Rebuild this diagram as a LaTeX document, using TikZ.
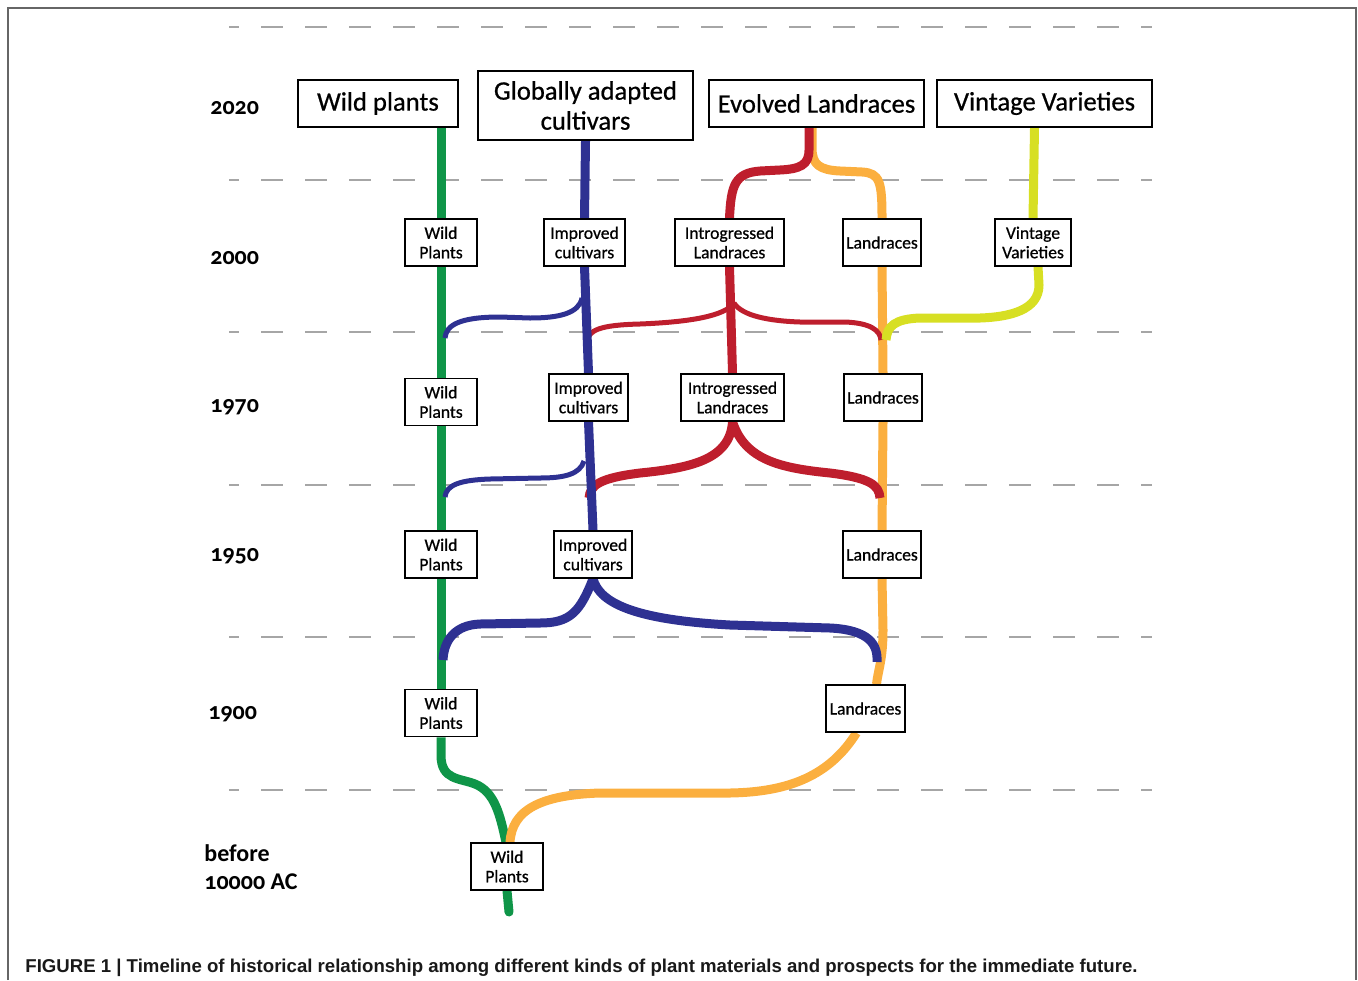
\documentclass[tikz,border=0pt]{standalone}
\usepackage{fontspec}
\setmainfont{Carlito}[Numbers=OldStyle]
\newfontfamily\diagfont{Carlito}[Numbers=OldStyle, FakeBold=0.7]
\newfontfamily\capfont{Liberation Sans}
\usetikzlibrary{calc,backgrounds}
\definecolor{wildgreen}{HTML}{0F9548}
\definecolor{impblue}{HTML}{2E3192}
\definecolor{intred}{HTML}{BE1E2D}
\definecolor{landorange}{HTML}{FBAF3F}
\definecolor{vintyellow}{HTML}{D7DF23}

\begin{document}
\begin{tikzpicture}[x=0.5pt, y=-0.5pt,
    header/.style={draw, line width=1pt, fill=white, inner sep=0pt, align=center, font=\diagfont\fontsize{13.3}{15}\selectfont},
    stage/.style={draw, line width=0.8pt, fill=white, inner sep=0pt, align=center, minimum width=36pt, minimum height=23.5pt, font=\diagfont\fontsize{8.8}{9.7}\selectfont},
    year/.style={anchor=west, inner sep=0pt, align=left, font=\fontsize{12}{14}\selectfont\bfseries},
    gridline/.style={draw=black!35, line width=0.75pt, dash pattern=on 11pt off 11pt, dash phase=6pt},
    thickline/.style={line width=4.5pt},
    thinline/.style={line width=2.5pt}]
    \useasboundingbox (0,0) rectangle (1358,980);
    \draw[black!60, line width=1pt] (8,980) -- (8,8) -- (1356,8) -- (1356,980);
    \node[anchor=base west, inner sep=0pt, text=black!90] (caption) at (25,972)
        {\capfont\bfseries\fontsize{9.3}{11}\selectfont\resizebox{556pt}{\height}{FIGURE 1 | Timeline of historical relationship among different kinds of plant materials and prospects for the immediate future.}};

    % years
    \node[year] (y2020) at (210,108) {2020};
    \node[year] (y2000) at (210,258) {2000};
    \node[year] (y1970) at (210,407) {1970};
    \node[year] (y1950) at (210,556) {1950};
    \node[year] (y1900) at (208,714) {1900};
    \node[year] (yold) at (204,867) {before\\10000 AC};

    % top row
    \node[header, minimum width=80pt, minimum height=23.5pt] (hdWild) at (378,103.5) {Wild plants};
    \node[header, minimum width=107.5pt, minimum height=34.5pt] (hdGlob) at (585.5,105.5) {Globally adapted\\cultivars};
    \node[header, minimum width=107.5pt, minimum height=23.5pt] (hdEvol) at (816.5,103.5) {Evolved Landraces};
    \node[header, minimum width=107.5pt, minimum height=23.5pt] (hdVint) at (1044.5,103.5) {Vintage Varieties};

    % 2000
    \node[stage] (wp2) at (441,242.5) {Wild\\Plants};
    \node[stage, minimum width=40.5pt] (ic2) at (584.5,242.5) {Improved\\cultivars};
    \node[stage, minimum width=54.5pt] (il2) at (729.5,242.5) {Introgressed\\Landraces};
    \node[stage, minimum width=39pt] (lr2) at (882,242.5) {Landraces};
    \node[stage, minimum width=38pt] (vv2) at (1033,242.5) {Vintage\\Varieties};
    % 1970
    \node[stage] (wp3) at (441,402) {Wild\\Plants};
    \node[stage, minimum width=39.5pt] (ic3) at (588.5,397.5) {Improved\\cultivars};
    \node[stage, minimum width=51.5pt] (il3) at (732.5,397.5) {Introgressed\\Landraces};
    \node[stage, minimum width=39pt] (lr3) at (883,397.5) {Landraces};
    % 1950
    \node[stage] (wp4) at (441,554.5) {Wild\\Plants};
    \node[stage, minimum width=39pt] (ic4) at (593,554.5) {Improved\\cultivars};
    \node[stage, minimum width=39pt] (lr4) at (882,554.5) {Landraces};
    % 1900
    \node[stage] (wp5) at (441,713) {Wild\\Plants};
    \node[stage, minimum width=39.5pt] (lr5) at (865.5,708.5) {Landraces};
    % origin
    \node[stage] (wp6) at (507,866.5) {Wild\\Plants};

    \begin{pgfonlayer}{background}
    \foreach \y in {27,180,332,485,637,790}
        \draw[gridline] (229,\y) -- (1152,\y);

    % wild plants
    \draw[thickline, wildgreen] (wp2.north |- hdWild.south) -- (wp2.north);
    \foreach \a/\b in {wp2/wp3, wp3/wp4, wp4/wp5}
        \draw[thickline, wildgreen] (\a.south) -- (\b.north);
    \draw[thickline, wildgreen] (wp5.south) -- ++(0,18) .. controls ++(0,25) and (460,778) .. (475,784)
        .. controls (495,792) and (500,815) .. ($(wp6.north)+(-1,0)$);
    \draw[thickline, wildgreen, line cap=round] (wp6.south) -- (509,912);

    % landraces
    \draw[thickline, landorange] (812,127) -- (812,148) .. controls (812,165) and (820,170) .. (840,171)
        -- (862,172) .. controls (880,173) and (lr2.north |- 0,182) .. (lr2.north);
    \draw[thickline, landorange] (lr2.south) -- (lr3.north);
    \draw[thickline, landorange] (lr3.south) -- (lr4.north);
    \draw[thickline, landorange] (lr4.south) -- (883,630) .. controls (883,660) and (878,670) .. ($(lr5.north)+(11,0)$);
    \draw[thickline, landorange] ($(lr5.south)+(-9,0)$) .. controls (830,775) and (790,792) .. (730,793)
        -- (600,793) .. controls (540,795) and (512,810) .. ($(wp6.north)+(3,0)$);

    % introgressed landraces
    \draw[thickline, intred] (809,127) -- (809,150) .. controls (809,165) and (800,169) .. (780,170)
        -- (760,171) .. controls (735,173) and (731,185) .. (il2.north);
    \draw[thickline, intred] (il2.south) -- (il3.north);
    \coordinate (rj) at (734,303);
    \draw[thinline, intred] (rj) .. controls (725,316) and (690,322) .. (640,324) .. controls (600,325) and (588,330) .. (587,342);
    \draw[thinline, intred] (rj) .. controls (742,316) and (770,321) .. (800,322) -- (845,322) .. controls (870,323) and (880,330) .. (881,340);
    \draw[thickline, intred] (il3.south) .. controls (730,460) and (690,468) .. (640,473) .. controls (600,478) and (590,485) .. (589,498);
    \draw[thickline, intred] (il3.south) .. controls (745,460) and (780,468) .. (830,473) .. controls (870,478) and (879,485) .. (880,498);

    % improved cultivars
    \draw[thickline, impblue] (hdGlob.south) -- (ic2.north);
    \draw[thickline, impblue] (ic2.south) -- (ic3.north);
    \draw[thickline, impblue] (ic3.south) -- (ic4.north);
    \coordinate (bj1) at (582,298);
    \coordinate (bj2) at (584,461);
    \draw[thinline, impblue] (bj1) .. controls (579,313) and (560,318) .. (530,318) -- (500,317) .. controls (460,317) and (446,325) .. (445,338);
    \draw[thinline, impblue] (bj2) .. controls (580,474) and (565,478) .. (540,478) -- (490,479) .. controls (460,480) and (446,485) .. (445,497);
    \draw[thickline, impblue] (ic4.south) .. controls (580,612) and (570,623) .. (540,623) -- (480,624) .. controls (455,625) and (444,640) .. (443,660);
    \draw[thickline, impblue] (ic4.south) .. controls (600,605) and (640,620) .. (730,625) -- (830,628) .. controls (870,630) and (878,645) .. (877,662);

    % vintage varieties
    \draw[thickline, vintyellow] ($(hdVint.south)+(-10,0)$) -- (vv2.north);
    \draw[thickline, vintyellow] ($(vv2.south)+(5,0)$) -- (1039,285) .. controls (1039,310) and (1010,317) .. (980,318)
        -- (920,318) .. controls (895,319) and (887,326) .. (886,340);
    \end{pgfonlayer}
\end{tikzpicture}
\end{document}
